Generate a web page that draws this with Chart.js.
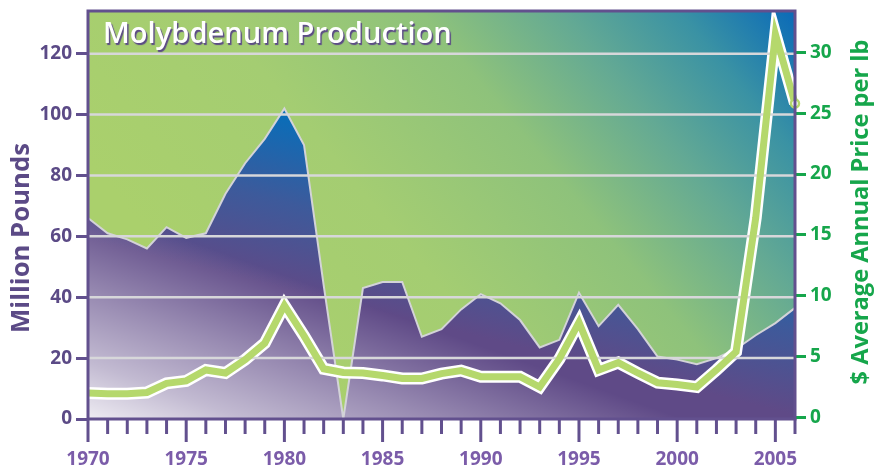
<!DOCTYPE html>
<html lang="en">
<head>
<meta charset="UTF-8">
<title>Molybdenum Production</title>
<style>
  html, body { margin: 0; padding: 0; background: #fff; }
  #wrap { width: 885px; height: 466px; position: relative; }
</style>
</head>
<body>
<div id="wrap"><canvas id="chart"></canvas></div>
<script src="https://cdn.jsdelivr.net/npm/chart.js@4.4.1/dist/chart.umd.min.js"></script>
<script>
// x axis years
const years = [1970,1971,1972,1973,1974,1975,1976,1977,1978,1979,
               1980,1981,1982,1983,1984,1985,1986,1987,1988,1989,
               1990,1991,1992,1993,1994,1995,1996,1997,1998,1999,
               2000,2001,2002,2003,2004,2005,2006];
// million pounds (left axis)
const production = [66,61,59,56,63,59.5,61,74,84,92,
                    102,90,44,0,43,45,45,27,29.5,36,
                    41,38,32.5,23.5,26,41.5,30.5,37.5,29.5,20.5,
                    19.5,18,20,23,27.5,31.5,36.5];
// $ average annual price per lb (right axis)
const price = [2.0,1.95,1.95,2.05,2.8,3.0,3.9,3.65,4.75,6.1,
               9.2,6.7,4.0,3.7,3.65,3.45,3.2,3.2,3.6,3.85,
               3.35,3.35,3.35,2.5,4.8,7.8,3.9,4.5,3.65,2.85,
               2.7,2.5,3.9,5.4,16.4,31.5,25.8];
const leftTicks = [0,20,40,60,80,100,120];
const rightTicks = [0,5,10,15,20,25,30];

const PURPLE = '#5b4a86';
const FRAME = '#62508e';
const XLAB = '#7b5ca9';
const GREEN = '#16a64b';
const FONT = "'Open Sans', sans-serif";

function fitFont(ctx, text, target, base, weight) {
  ctx.font = weight + ' ' + base + 'px ' + FONT;
  const w = ctx.measureText(text).width;
  return base * target / w;
}

function rotText(ctx, text, cx, cy, len, color) {
  const size = fitFont(ctx, text, len, 24, 'bold');
  ctx.save();
  ctx.translate(cx, cy);
  ctx.rotate(-Math.PI / 2);
  ctx.font = 'bold ' + size + 'px ' + FONT;
  ctx.fillStyle = color;
  ctx.textAlign = 'center';
  ctx.textBaseline = 'middle';
  ctx.fillText(text, 0, 0);
  ctx.restore();
}

// no half-label padding on the value axes, so the plot area starts where the layout says
function noPad(s) {
  s.paddingTop = 0;
  s.paddingBottom = 0;
}

const decor = {
  id: 'decor',
  beforeDatasetsDraw(chart) {
    const {ctx, chartArea: a} = chart;
    const g = ctx.createLinearGradient(a.left + a.width * 0.3, a.bottom, a.right, a.top);
    g.addColorStop(0, '#aad06c');
    g.addColorStop(0.3, '#a4cd72');
    g.addColorStop(0.55, '#8ec27b');
    g.addColorStop(0.72, '#63a994');
    g.addColorStop(0.86, '#3a92a4');
    g.addColorStop(1, '#0a6ab8');
    ctx.save();
    ctx.fillStyle = g;
    ctx.fillRect(a.left, a.top, a.width, a.height);
    ctx.restore();
  },
  afterDatasetDraw(chart, args) {
    if (args.index !== 1) return;
    const {ctx, chartArea: a, scales} = chart;
    ctx.save();
    ctx.strokeStyle = '#d7d7da';
    ctx.lineWidth = 2.5;
    leftTicks.forEach(v => {
      if (!v) return;
      const y = scales.y.getPixelForValue(v);
      ctx.beginPath();
      ctx.moveTo(a.left, y);
      ctx.lineTo(a.right, y);
      ctx.stroke();
    });
    ctx.restore();
  },
  afterDraw(chart) {
    const {ctx, chartArea: a, scales} = chart;
    ctx.save();
    // frame
    ctx.strokeStyle = FRAME;
    ctx.lineWidth = 3;
    ctx.strokeRect(a.left, a.top, a.width, a.height);
    // x tick marks, long ones every 5 years
    years.forEach((yr, i) => {
      const x = scales.x.getPixelForValue(i);
      const len = yr % 5 === 0 ? 23 : 15;
      ctx.beginPath();
      ctx.moveTo(x, a.bottom);
      ctx.lineTo(x, a.bottom + len);
      ctx.stroke();
    });
    // chart title
    const t = 'Molybdenum Production';
    const size = fitFont(ctx, t, 349, 25, '600');
    ctx.font = '600 ' + size + 'px ' + FONT;
    ctx.textBaseline = 'alphabetic';
    ctx.shadowColor = PURPLE;
    ctx.shadowOffsetX = 1.5;
    ctx.shadowOffsetY = 1.5;
    ctx.shadowBlur = 1;
    ctx.fillStyle = '#ffffff';
    ctx.fillText(t, a.left + 15, a.top + 32);
    ctx.restore();
    // axis titles
    rotText(ctx, 'Million Pounds', 22, 238, 190, PURPLE);
    rotText(ctx, '$ Average Annual Price per lb', 861, 212, 345, GREEN);
  }
};

function whiteFade(context) {
  const a = context.chart.chartArea;
  if (!a) return null;
  const g = context.chart.ctx.createLinearGradient(a.left, a.top + a.height * 1.027, a.left + a.width * 0.102, a.top + a.height * 0.537);
  g.addColorStop(0, 'rgba(255,255,255,0.95)');
  g.addColorStop(0.3, 'rgba(255,255,255,0.62)');
  g.addColorStop(0.6, 'rgba(255,255,255,0.36)');
  g.addColorStop(0.8, 'rgba(255,255,255,0.18)');
  g.addColorStop(1, 'rgba(255,255,255,0)');
  return g;
}

function areaFill(context) {
  const a = context.chart.chartArea;
  if (!a) return null;
  const g = context.chart.ctx.createLinearGradient(a.left, a.top + a.height * 0.561, a.left + a.width * 0.057, a.top + a.height * 0.162);
  g.addColorStop(0, '#5f4a87');
  g.addColorStop(0.5, '#3d5a9b');
  g.addColorStop(1, '#0a6db8');
  return g;
}

window.addEventListener('load', function () {
  const ctx = document.getElementById('chart');
  new Chart(ctx, {
    type: 'line',
    data: {
      labels: years,
      datasets: [
        {
          label: 'Price',
          data: price,
          yAxisID: 'y1',
          borderColor: '#b5d86c',
          borderWidth: 7,
          borderJoinStyle: 'miter',
          fill: false,
          pointRadius: c => c.dataIndex === price.length - 1 ? 4 : 0,
          pointBackgroundColor: '#ffffff',
          pointBorderColor: '#b5d86c',
          pointBorderWidth: 2.5,
          order: 0
        },
        {
          label: 'Price outline',
          data: price,
          yAxisID: 'y1',
          borderColor: '#ffffff',
          borderWidth: 12,
          borderJoinStyle: 'miter',
          fill: false,
          pointRadius: 0,
          order: 1
        },
        {
          label: 'Production fade',
          data: production,
          yAxisID: 'y',
          borderColor: '#d3d3d8',
          borderWidth: 2,
          backgroundColor: whiteFade,
          fill: 'origin',
          pointRadius: 0,
          order: 2
        },
        {
          label: 'Production',
          data: production,
          yAxisID: 'y',
          borderWidth: 0,
          backgroundColor: areaFill,
          fill: 'origin',
          pointRadius: 0,
          order: 3
        }
      ]
    },
    options: {
      responsive: true,
      maintainAspectRatio: false,
      animation: false,
      layout: { padding: { top: 11, left: 0, right: 0, bottom: 0 } },
      plugins: { legend: { display: false }, tooltip: { enabled: false } },
      elements: { line: { tension: 0 } },
      scales: {
        x: {
          type: 'category',
          offset: false,
          grid: { display: false, drawTicks: false },
          border: { display: false },
          afterFit: s => { s.height = 47; s.paddingLeft = 0; s.paddingRight = 0; },
          ticks: {
            autoSkip: false,
            maxRotation: 0,
            padding: 29,
            color: XLAB,
            font: { family: FONT, weight: 'bold', size: 19 },
            callback: function (v) {
              const yr = this.getLabelForValue(v);
              return yr % 5 === 0 ? String(yr) : '';
            }
          }
        },
        y: {
          position: 'left',
          min: 0,
          max: 134,
          afterBuildTicks: s => { s.ticks = leftTicks.map(v => ({ value: v })); },
          afterFit: s => { s.width = 88; noPad(s); },
          grid: { drawOnChartArea: false, drawTicks: true, tickLength: 12, tickWidth: 3, tickColor: FRAME },
          border: { display: false },
          ticks: {
            padding: 4,
            color: PURPLE,
            font: { family: FONT, weight: 'bold', size: 19 }
          }
        },
        y1: {
          position: 'right',
          min: -0.13,
          max: 33.4,
          afterBuildTicks: s => { s.ticks = rightTicks.map(v => ({ value: v })); },
          afterFit: s => { s.width = 90; noPad(s); },
          grid: { drawOnChartArea: false, drawTicks: true, tickLength: 11, tickWidth: 3, tickColor: GREEN },
          border: { display: false },
          ticks: {
            padding: 4,
            color: GREEN,
            font: { family: FONT, weight: 'bold', size: 19 }
          }
        }
      }
    },
    plugins: [decor]
  });
});
</script>
</body>
</html>
